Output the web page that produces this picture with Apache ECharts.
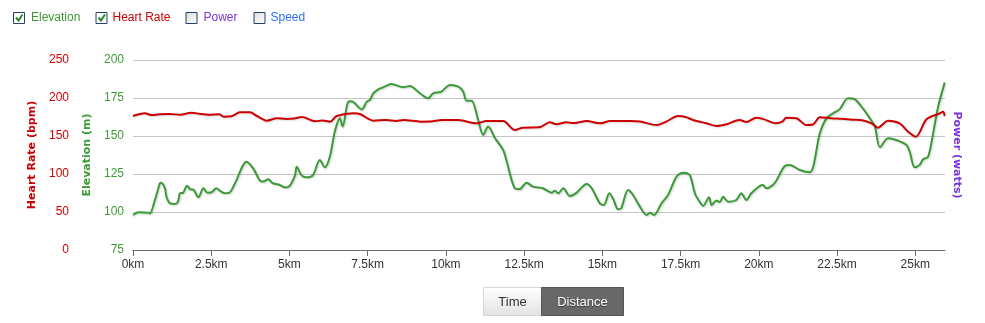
<!DOCTYPE html>
<html>
<head>
<meta charset="utf-8">
<script src="https://cdn.jsdelivr.net/npm/echarts@6/dist/echarts.min.js"></script>
<style>
html,body{margin:0;padding:0;background:#fff;}
#chart{width:985px;height:323px;}
</style>
</head>
<body>
<div id="chart"></div>
<script>
// ---- data ----
var xTickValues = [0, 2.5, 5, 7.5, 10, 12.5, 15, 17.5, 20, 22.5, 25];
var elevTicks = [75, 100, 125, 150, 175, 200];
var hrTicks = [0, 50, 100, 150, 200, 250];

var elevDist = [0,0.17,0.49,0.54,0.7,0.86,0.9,1.02,1.07,1.18,1.34,1.44,1.5,1.6,1.72,1.76,1.82,1.93,2.09,2.25,2.38,2.51,2.67,2.77,2.93,3.09,3.26,3.63,3.84,4.11,4.21,4.32,4.47,4.69,4.85,5.0,5.18,5.23,5.38,5.54,5.75,5.97,6.13,6.29,6.45,6.61,6.7,6.88,6.98,7.31,7.47,7.58,7.68,7.84,7.99,8.26,8.64,8.84,9.17,9.43,9.59,9.84,10.13,10.4,10.55,10.66,10.82,11.03,11.19,11.35,11.57,11.83,11.93,12.2,12.35,12.58,12.78,13.1,13.38,13.48,13.59,13.75,13.96,14.17,14.5,14.66,14.92,15.05,15.22,15.35,15.5,15.6,15.82,15.98,16.2,16.41,16.52,16.65,16.89,17.1,17.37,17.58,17.79,17.96,18.1,18.22,18.41,18.49,18.65,18.75,18.86,19.02,19.28,19.44,19.6,19.76,20.03,20.13,20.24,20.5,20.83,20.99,21.31,21.63,21.95,22.16,22.37,22.58,22.85,23.06,23.28,23.55,23.71,23.87,24.13,24.39,24.72,24.82,24.98,25.14,25.25,25.41,25.57,25.73,25.94];
var elevValues = [98,99.8,99.5,99,107.9,118.9,119.2,115.6,110,105.7,105.3,106.8,112.3,112.6,117.1,116.8,115,114.7,109.7,115.6,112.7,113,115.6,114,112.3,112.8,118.9,133.1,128.7,120,120.4,121.5,118.9,117.8,116.2,117,124.3,129.8,124.3,122.8,124.3,134.2,129.4,136.4,152.9,161.6,156.2,172.6,172.8,167.5,172.6,174,178.1,180.7,182,184.2,182,182.9,178.1,174.8,178.1,179,183.6,182.5,179.2,173.2,173.2,160.5,150.7,156.2,148.5,140.8,134.2,115.6,115,119.3,116.7,115.6,112.7,114,112.3,115.6,110.5,112.6,118.4,115.6,105.7,104.6,112.3,108.4,101.8,102.4,114.5,111.2,103.5,98,99.5,98,105.7,111.2,123.3,125.9,124.3,112,107,104,109.7,104.6,107.5,106.5,110,106.8,107.9,112.3,107.9,112.3,117.1,117.8,115.6,118.9,130.3,130.9,127.6,126.1,151.8,161.6,164.9,167.5,174.8,174.2,169.3,161.6,156.2,142.6,148.5,147.4,144.1,139.8,129.4,131,134.7,136.4,151.8,169.3,185.1];

var hrDist = [0,0.38,0.6,0.85,1.18,1.5,1.87,2.15,2.45,2.75,2.9,3.15,3.42,3.74,3.96,4.27,4.6,4.9,5.15,5.4,5.82,6.05,6.3,6.51,7.04,7.25,7.68,8.1,8.4,8.65,9.2,9.5,9.87,10.4,10.98,11.3,11.83,12.2,12.46,12.99,13.32,13.53,13.85,14.1,14.5,14.92,15.25,15.88,16.2,16.73,17.04,17.42,17.7,17.9,18.33,18.65,18.97,19.39,19.6,19.92,20.15,20.54,20.75,20.88,21.2,21.52,21.73,21.95,22.3,22.65,22.97,23.3,23.6,23.81,24.13,24.5,24.77,25.02,25.36,25.78,25.89,25.94];
var hrValues = [176.3,179.8,177.5,178.5,178.9,178,180.7,179,178,178.5,175.4,176,181.1,181.1,176.3,170.2,173.3,172.5,173,175,169.3,170.5,168.9,176.3,179.8,179,170.2,171,169.8,171,168.9,169,171,171,166.7,169.7,169.7,157.9,161,161.4,168,165.5,168,167,169.7,166.7,169.7,169.7,169,164.5,169,176.3,174.5,171,166.7,163.2,165.5,171,168.4,174.1,172.2,166.7,168.9,174.1,173.3,164.5,165.2,174.6,173.3,172.6,171.5,170.6,166.7,161,170.2,166.7,155.7,149.1,172,179.8,182,176.3];

var legendNames = ['Elevation', 'Heart Rate', 'Power', 'Speed'];
var buttonNames = ['Time', 'Distance'];

// ---- build ----
function pairs(xs, ys) { return xs.map(function (x, i) { return [x, ys[i]]; }); }

var GREEN = '#3a9a36', RED = '#cc0000', PURPLE = '#7a35d8', BLUE = '#2f6ff5';
var FONT = '"Liberation Sans", Arial, sans-serif';
var BOLDFONT = '"DejaVu Sans", Verdana, sans-serif';

var chart = echarts.init(document.getElementById('chart'), null, {renderer: 'canvas'});

function checkbox(x, checked, fill) {
  var els = [{
    type: 'rect', shape: {x: x + 0.5, y: 12.5, width: 11, height: 11},
    style: {fill: fill, stroke: '#23416b', lineWidth: 1}
  }];
  if (checked) {
    els.push({
      type: 'polyline', shape: {points: [[x + 3, 17.5], [x + 5.5, 20.5], [x + 9.5, 14.5]]},
      style: {stroke: '#2a8a2a', lineWidth: 2, fill: null}
    });
  }
  return els;
}

var legendText = [
  {x: 31, color: '#3c9a2e'},
  {x: 112.5, color: '#cc0000'},
  {x: 203.5, color: '#7a35d8'},
  {x: 270.5, color: '#2f6ff5'}
];
var boxX = [13, 95.5, 185.5, 253.5];
var graphics = [];
legendNames.forEach(function (n, i) {
  var checked = i < 2;
  var fill = checked ? '#ffffff' : {type: 'linear', x: 0, y: 0, x2: 1, y2: 1, colorStops: [{offset: 0, color: '#dcdcdc'}, {offset: 1, color: '#ffffff'}]};
  graphics = graphics.concat(checkbox(boxX[i], checked, fill));
  graphics.push({
    type: 'text', x: legendText[i].x, y: 18,
    style: {text: n, fill: legendText[i].color, font: '12px ' + FONT, verticalAlign: 'middle', textAlign: 'left'}
  });
});

// buttons
graphics.push({
  type: 'rect', shape: {x: 483.5, y: 287.5, width: 58, height: 28},
  style: {fill: {type: 'linear', x: 0, y: 0, x2: 0, y2: 1, colorStops: [{offset: 0, color: '#ffffff'}, {offset: 1, color: '#e2e2e2'}]}, stroke: '#d6d6d6', lineWidth: 1}
});
graphics.push({
  type: 'text', x: 512.5, y: 302,
  style: {text: buttonNames[0], fill: '#333333', font: '13px ' + FONT, textAlign: 'center', verticalAlign: 'middle'}
});
graphics.push({
  type: 'rect', shape: {x: 541.5, y: 287.5, width: 82, height: 28},
  style: {fill: '#686868', stroke: '#555555', lineWidth: 1}
});
graphics.push({
  type: 'text', x: 582.5, y: 302,
  style: {text: buttonNames[1], fill: '#ffffff', font: '13px ' + FONT, textAlign: 'center', verticalAlign: 'middle',
    textShadowColor: 'rgba(0,0,0,0.5)', textShadowBlur: 1, textShadowOffsetY: 1}
});

var option = {
  animation: false,
  backgroundColor: '#ffffff',
  grid: {left: 133, right: 40, top: 60, bottom: 73, containLabel: false},
  xAxis: {
    type: 'value', min: 0, max: 25.95,
    axisLine: {show: true, lineStyle: {color: '#6b6b6b', width: 1}},
    axisTick: {show: true, length: 6, lineStyle: {color: '#6b6b6b'}, customValues: xTickValues},
    axisLabel: {customValues: xTickValues, formatter: function (v) { return v + 'km'; },
      color: '#333333', fontSize: 12, fontFamily: FONT, margin: 9},
    splitLine: {show: false}
  },
  yAxis: [
    {
      type: 'value', position: 'left', min: 75, max: 200, interval: 25,
      name: 'Elevation (m)', nameLocation: 'middle', nameGap: 39,
      nameTextStyle: {color: GREEN, fontWeight: 'bold', fontSize: 11, fontFamily: BOLDFONT},
      axisLine: {show: false}, axisTick: {show: false},
      axisLabel: {color: '#3f9b35', fontSize: 12, fontFamily: FONT, margin: 9},
      splitLine: {show: true, lineStyle: {color: '#c4c4c4', width: 1}}
    },
    {
      type: 'value', position: 'left', offset: 56, min: 0, max: 250, interval: 50,
      name: 'Heart Rate (bpm)', nameLocation: 'middle', nameGap: 39,
      nameTextStyle: {color: RED, fontWeight: 'bold', fontSize: 11, fontFamily: BOLDFONT},
      axisLine: {show: false}, axisTick: {show: false},
      axisLabel: {color: '#d40000', fontSize: 12, fontFamily: FONT, margin: 8},
      splitLine: {show: false}
    },
    {
      type: 'value', position: 'right', min: 0, max: 100,
      name: 'Power (watts)', nameLocation: 'middle', nameGap: 6, nameRotate: -90,
      nameTextStyle: {color: PURPLE, fontWeight: 'bold', fontSize: 11, fontFamily: BOLDFONT},
      axisLine: {show: false}, axisTick: {show: false}, axisLabel: {show: false},
      splitLine: {show: false}
    }
  ],
  series: [
    {
      name: 'Elevation', type: 'line', yAxisIndex: 0, data: pairs(elevDist, elevValues),
      showSymbol: false, smooth: 0.3, z: 2,
      lineStyle: {color: GREEN, width: 2, shadowColor: 'rgba(0,0,0,0.18)', shadowBlur: 2, shadowOffsetX: 1, shadowOffsetY: 1}
    },
    {
      name: 'Heart Rate', type: 'line', yAxisIndex: 1, data: pairs(hrDist, hrValues),
      showSymbol: false, smooth: 0.3, z: 3,
      lineStyle: {color: RED, width: 2, shadowColor: 'rgba(0,0,0,0.15)', shadowBlur: 2, shadowOffsetX: 1, shadowOffsetY: 1}
    }
  ],
  graphic: graphics
};
chart.setOption(option);
</script>
</body>
</html>
